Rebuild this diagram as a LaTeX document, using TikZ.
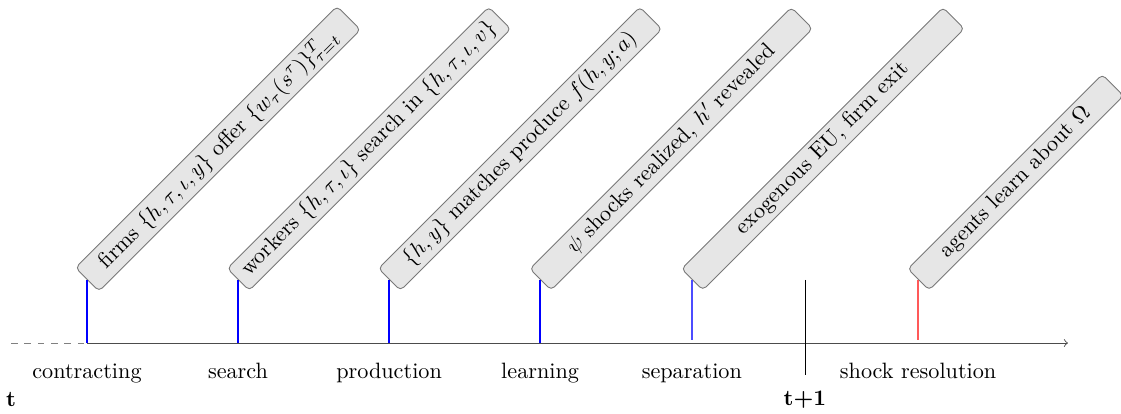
\documentclass[tikz,border=0pt]{standalone}
\usepackage{xcolor}
\usepackage{amssymb}
\usepackage{amsmath}
\usepackage{tikz}
\usetikzlibrary{shapes,arrows,positioning,calc}
\definecolor{eventfill}{RGB}{230,230,230}
\definecolor{eventline}{RGB}{120,120,120}

\begin{document}
\begin{tikzpicture}[scale=1.0,
    event/.style={draw=eventline, fill=eventfill, rounded corners=2pt, rotate=45, anchor=west,
        minimum width=5.85cm, minimum height=0.475cm, inner sep=2pt}]
    \useasboundingbox (-1.376,-1.123) rectangle (16.36,5.427);

    % Timeline
    \coordinate (start) at (-1.2,0);
    \coordinate (c1) at (0,0);
    \coordinate (c2) at (2.39,0);
    \coordinate (c3) at (4.78,0);
    \coordinate (c4) at (7.17,0);
    \coordinate (c5) at (9.57,0);
    \coordinate (c6) at (13.15,0);
    \coordinate (end) at (15.52,0);
    \draw[gray, dashed] (start) -- (c1);
    \draw[->, black!70] (c1) -- (end);

    % Events
    \node[event] (contract) at (0,1) {firms $\{h,\tau,\iota,y\}$ offer $\{w_\tau(s^\tau)\}_{\tau=t}^T$};
    \node[event] (search) at (2.39,1) {workers $\{h,\tau,\iota\}$ search in $\{h,\tau,\iota,v\}$};
    \node[event] (prod) at (4.78,1) {$\{h,y\}$ matches produce $f(h,y;a)$};
    \node[event] (learn) at (7.17,1) {$\psi$ shocks realized, $h'$ revealed};
    \node[event] (sep) at (9.57,1) {exogenous EU, firm exit};
    \node[event, minimum width=4.35cm] (shock) at (13.15,1) {agents learn about $\Omega$};

    % Ticks
    \foreach \c/\e/\col/\gap in {c1/contract/blue/0, c2/search/blue/0, c3/prod/blue/0,
                                 c4/learn/blue/0, c5/sep/blue!70/1.5, c6/shock/red!65/1.5} {
        \draw[\col, line width=0.6pt] ([yshift=\gap pt]\c) -- (\e.west);
    }

    % Stage labels
    \foreach \c/\label in {c1/contracting, c2/search, c3/production, c4/learning,
                           c5/separation, c6/shock resolution} {
        \node[below=0.2cm of \c] (l\c) {\label};
    }

    % Period break
    \coordinate (ptop) at (11.36,1);
    \coordinate (pbot) at (11.36,-0.5);
    \draw (ptop) -- (pbot);
    \node (tnow) at (-1.2,-0.9) {\textbf{t}};
    \node (tnext) at (11.36,-0.9) {\textbf{t+1}};
\end{tikzpicture}
\end{document}
